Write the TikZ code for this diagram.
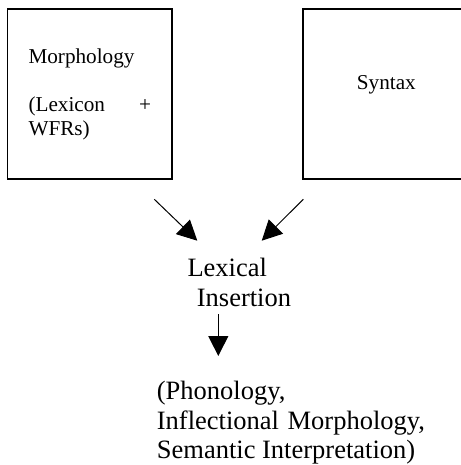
\documentclass[tikz,border=0pt]{standalone}
\usepackage{fontspec}
\setmainfont{Liberation Serif}
\usetikzlibrary{arrows.meta}
\begin{document}
\begin{tikzpicture}[x=1pt,y=-1pt,
  module/.style={draw,line width=1.6pt},
  small/.style={anchor=base west,inner sep=0pt,font=\fontsize{21.2}{24.5}\selectfont},
  large/.style={anchor=base west,inner sep=0pt,font=\fontsize{26.5}{30}\selectfont},
  flow/.style={line width=1pt,-{Triangle[length=20pt,width=20pt]}}]
\useasboundingbox (0,0) rectangle (460,465);

% component boxes
\draw[module] (7.5,9) rectangle (172,179);
\draw[module] (303,9) rectangle (470,179);

% labels inside the boxes
\node[small] (morph) at (28.3,63.3) {Morphology};
\node[small] (lex) at (28.3,111.7) {(Lexicon};
\node[small,anchor=base] (plus) at (145,111.7) {+};
\node[small] (wfr) at (28.3,136) {WFRs)};
\node[small] (syn) at (356.7,89.3) {Syntax};

% lexical insertion
\node[large] (li1) at (187.3,276) {Lexical};
\node[large] (li2) at (196.7,306) {Insertion};

% output components
\node[large] (out1) at (156.7,399) {(Phonology,};
\node[large] (out2) at (156.7,429) {Inflectional\hspace{2pt} Morphology,};
\node[large] (out3) at (156.7,458) {Semantic Interpretation)};

% arrow end points
\coordinate (la) at (154.3,199.3);
\coordinate (lb) at (197.3,240.7);
\coordinate (ra) at (303.3,199.3);
\coordinate (rb) at (261.7,240.7);
\coordinate (da) at (218.3,314);
\coordinate (db) at (218.3,356);

\draw[flow] (la) -- (lb);
\draw[flow] (ra) -- (rb);
\draw[flow] (da) -- (db);
\end{tikzpicture}
\end{document}
